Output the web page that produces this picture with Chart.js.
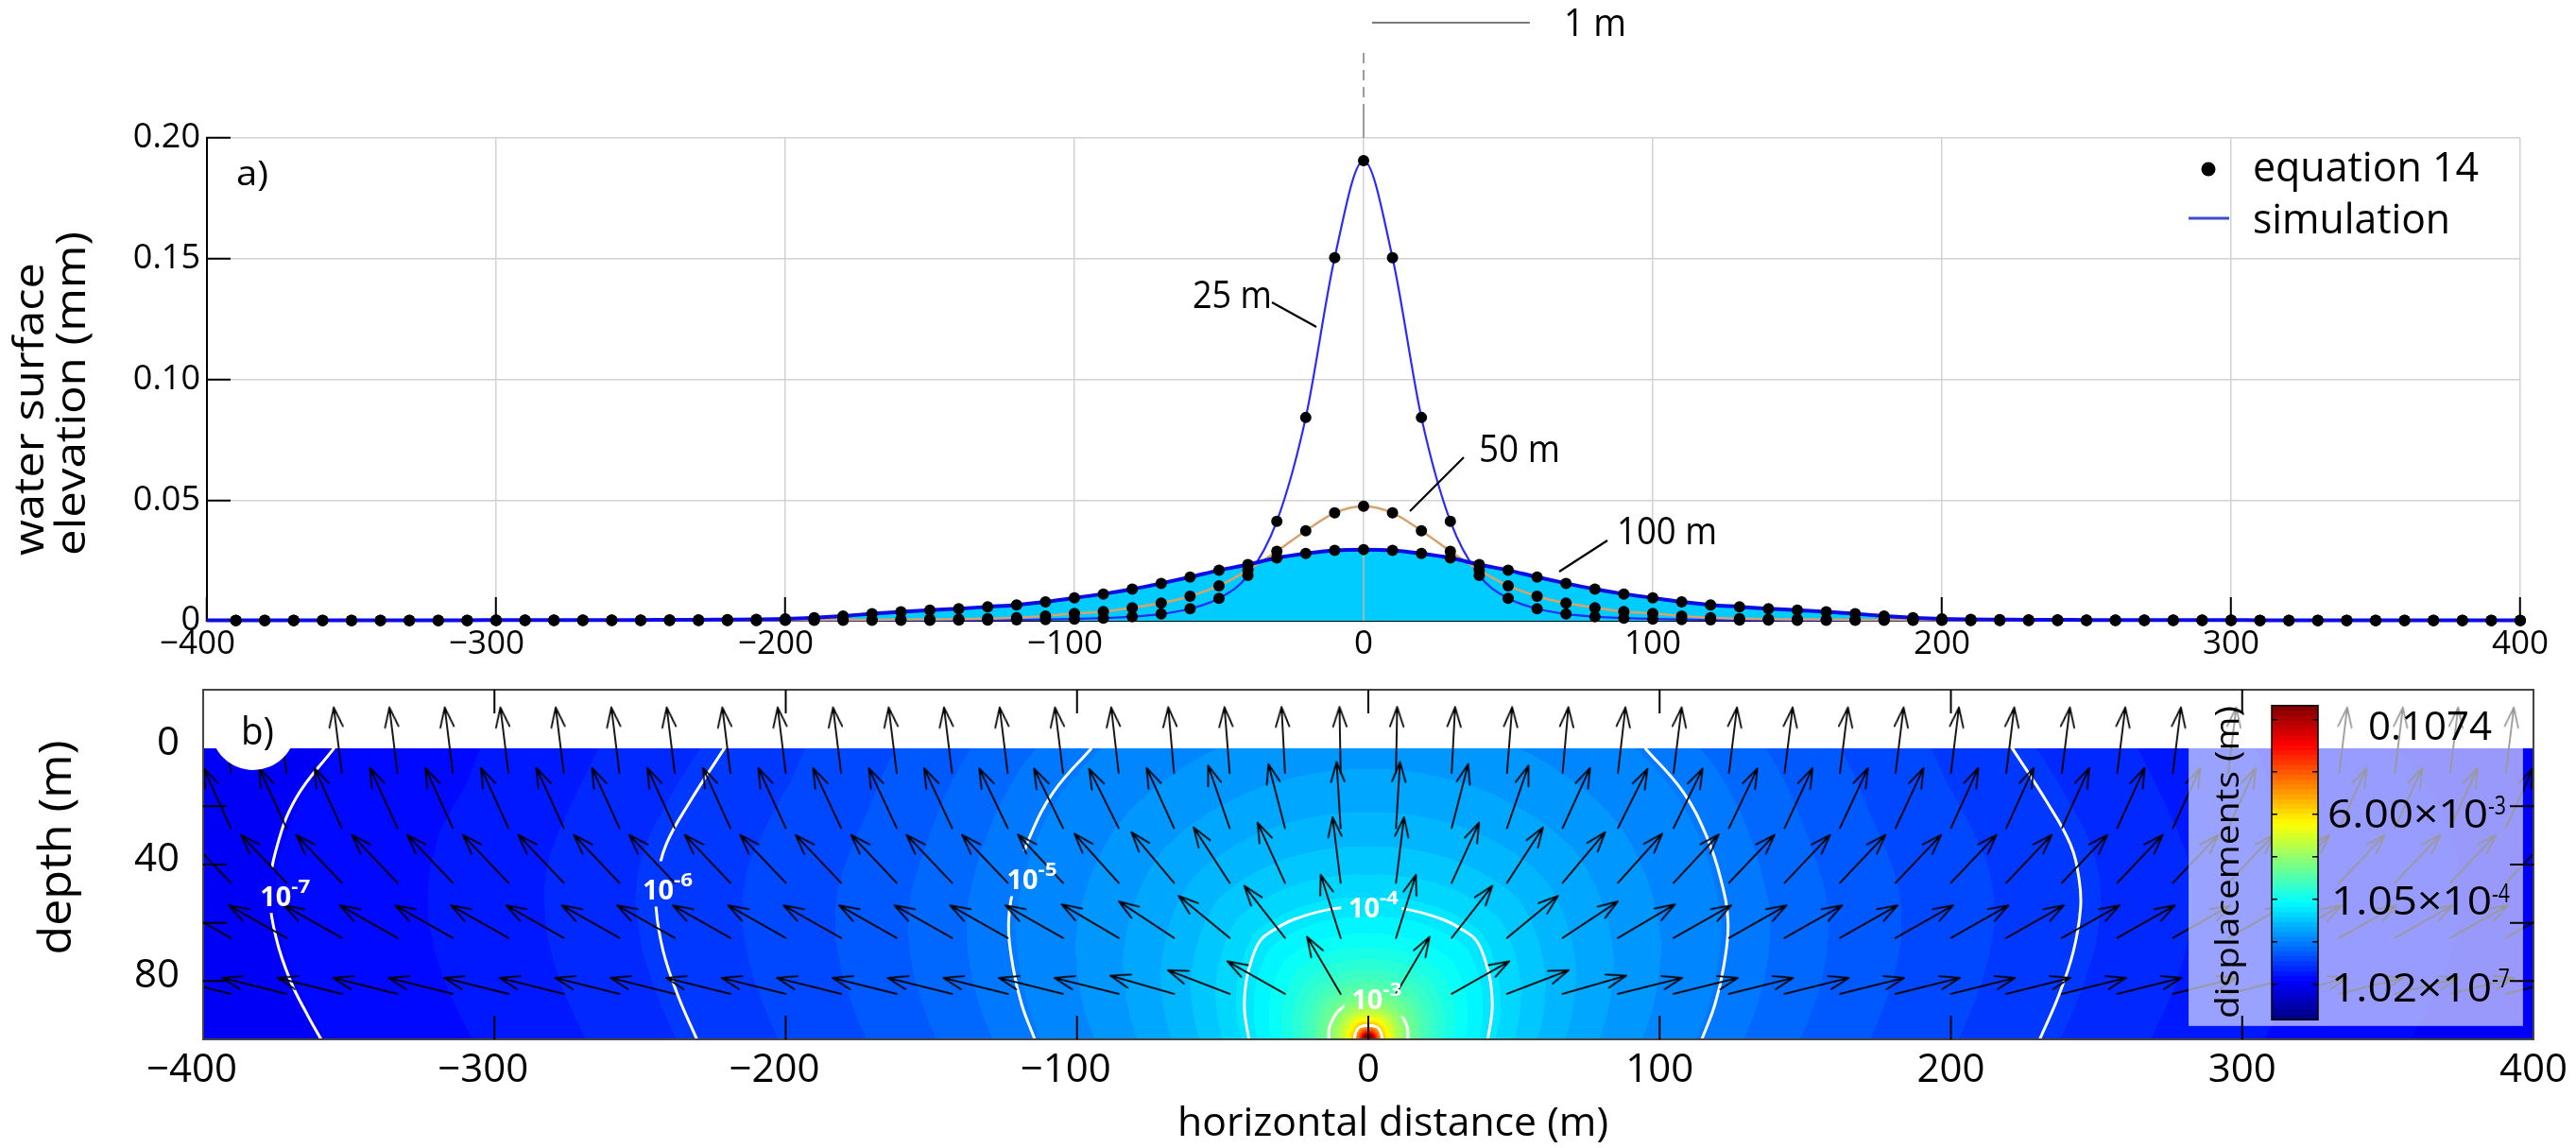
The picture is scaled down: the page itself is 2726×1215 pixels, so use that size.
<!DOCTYPE html>
<html>
<head>
<meta charset="utf-8">
<title>Water surface elevation and displacement field</title>
<script src="https://cdn.jsdelivr.net/npm/chart.js@4.4.1/dist/chart.umd.min.js"></script>
<style>
  html, body { margin: 0; padding: 0; background: #ffffff; }
  #wrap { position: relative; width: 2726px; height: 1215px; overflow: hidden; background: #ffffff; }
  #wrap canvas { position: absolute; left: 0; top: 0; }
</style>
</head>
<body>
<div id="wrap">
  <canvas id="panelB" width="2726" height="1215"></canvas>
  <canvas id="panelA" width="2726" height="1215"></canvas>
</div>
<script>
// ================= Panel (a): water surface elevation (mm) =================
const distance = [-400,-390,-380,-370,-360,-350,-340,-330,-320,-310,-300,-290,-280,-270,-260,-250,-240,-230,-220,-210,
  -200,-190,-180,-170,-160,-150,-140,-130,-120,-110,-100,-90,-80,-70,-60,-50,-40,-30,-20,-10,0,
  10,20,30,40,50,60,70,80,90,100,110,120,130,140,150,160,170,180,190,200,
  210,220,230,240,250,260,270,280,290,300,310,320,330,340,350,360,370,380,390,400];

const elev25 = [0.0001,0.0001,0.0001,0.0001,0.0001,0.0001,0.0001,0.0001,0.0001,0.0001,0.0001,0.0001,0.0001,0.0001,0.0001,0.0001,0.0001,0.0001,0.0001,0.0001,
  0.0002,0.0002,0.0002,0.0002,0.0002,0.0002,0.0003,0.0003,0.0004,0.0005,0.0007,0.0011,0.0017,0.0028,0.0050,0.0093,0.0188,0.0412,0.0842,0.1504,0.1906,
  0.1504,0.0842,0.0412,0.0188,0.0093,0.0050,0.0028,0.0017,0.0011,0.0007,0.0005,0.0004,0.0003,0.0003,0.0002,0.0002,0.0002,0.0002,0.0002,0.0002,
  0.0001,0.0001,0.0001,0.0001,0.0001,0.0001,0.0001,0.0001,0.0001,0.0001,0.0001,0.0001,0.0001,0.0001,0.0001,0.0001,0.0001,0.0001,0.0001,0.0001];

const elev50 = [0.0001,0.0001,0.0001,0.0001,0.0001,0.0001,0.0001,0.0001,0.0001,0.0001,0.0002,0.0002,0.0002,0.0002,0.0002,0.0002,0.0002,0.0002,0.0002,0.0002,
  0.0003,0.0003,0.0004,0.0004,0.0005,0.0006,0.0007,0.0009,0.0013,0.0020,0.0030,0.0038,0.0054,0.0073,0.0102,0.0145,0.0210,0.0288,0.0373,0.0447,0.0475,
  0.0447,0.0373,0.0288,0.0210,0.0145,0.0102,0.0073,0.0054,0.0038,0.0030,0.0020,0.0013,0.0009,0.0007,0.0006,0.0005,0.0004,0.0004,0.0003,0.0003,
  0.0002,0.0002,0.0002,0.0002,0.0002,0.0002,0.0002,0.0002,0.0002,0.0002,0.0001,0.0001,0.0001,0.0001,0.0001,0.0001,0.0001,0.0001,0.0001,0.0001];

const elev100 = [0.0002,0.0002,0.0002,0.0002,0.0002,0.0002,0.0002,0.0002,0.0002,0.0002,0.0003,0.0003,0.0003,0.0003,0.0003,0.0003,0.0004,0.0004,0.0005,0.0006,
  0.0008,0.0013,0.0020,0.0029,0.0037,0.0044,0.0050,0.0058,0.0066,0.0078,0.0095,0.0111,0.0131,0.0155,0.0181,0.0209,0.0233,0.0260,0.0279,0.0292,0.0295,
  0.0292,0.0279,0.0260,0.0233,0.0209,0.0181,0.0155,0.0131,0.0111,0.0095,0.0078,0.0066,0.0058,0.0050,0.0044,0.0037,0.0029,0.0020,0.0013,0.0008,
  0.0006,0.0005,0.0004,0.0004,0.0003,0.0003,0.0003,0.0003,0.0003,0.0003,0.0002,0.0002,0.0002,0.0002,0.0002,0.0002,0.0002,0.0002,0.0002,0.0002];

const curveNames = ['25 m', '50 m', '100 m'];
const legendNames = ['equation 14', 'simulation'];

// ================= Panel (b): displacement field =================
const sourceX = 0, sourceDepth = 100;          // point source (m)
const maxDisplacement = 0.1074;                 // m
const contourLevels = [-2, -3, -4, -5, -6, -7]; // log10 of displacement
// left half of each contour, (horizontal distance m, depth m)
const contourM2 = [[0,95.2],[-3,95.8],[-4.3,97.6],[-4.8,100]];
const contourM3 = [[0,86.3],[-6,87.4],[-10,90],[-11.8,92.3],[-13.4,96],[-13.6,100]];
const contourM4 = [[0,54.5],[-12.3,55.2],[-25.5,58.8],[-32.5,62.5],[-37,66],[-40,72.5],[-42,80.5],[-42.5,90],[-41,100]];
const contourM5 = [[-95,0],[-108,15],[-116,30],[-121,45],[-123.5,60],[-122,75],[-119,88],[-114.5,100]];
const contourM6 = [[-221,0],[-233,18.6],[-241,33],[-244,45],[-244.5,55],[-242,70],[-237,85],[-230.5,100]];
const contourM7 = [[-355,0],[-368,17],[-375,35],[-377,50],[-375,65],[-370,80],[-364,92],[-359.5,100]];
const contourShapes = [contourM2, contourM3, contourM4, contourM5, contourM6, contourM7];

// displacement direction arrows: columns (|x|, m), rows (depth, m), tilt from vertical (deg, outward)
const arrowHalfX = [9.5,28.6,47.6,66.7,85.7,104.8,123.8,142.9,161.9,181.0,200.0,219.0,238.1,257.1,276.2,295.2,314.3,333.3,352.4,371.4,390.5];
const arrowDepth = [8.6, 27.5, 46.3, 65.2, 84.4];
const tiltRow1 = [1,3,4.5,5,6.5,7,7,7,7,7,7,7,7,7,7,7,7,7,7,7,7];
const tiltRow2 = [3.5,14.5,19,24.5,26.5,26,25.5,25,25,25,24.5,24.5,24.5,24.5,24.5,24.5,24.5,24.5,24.5,24.5,24.5];
const tiltRow3 = [7,24.5,33,40,42,43,43.5,43.5,43.5,43.5,43.5,43.5,43.5,43.5,43.5,43.5,43.5,43.5,43.5,43.5,43.5];
const tiltRow4 = [17.5,38,50.5,56.5,59.5,60.5,60.5,60.5,60.5,60.5,60.5,60.5,60.5,60.5,60.5,60.5,60.5,60.5,60.5,60.5,60.5];
const tiltRow5 = [30.5,60.5,69,74,76,76,76,76,76,76,76,76,76,76,76,76,76,76,76,76,76];
const arrowTilts = [tiltRow1, tiltRow2, tiltRow3, tiltRow4, tiltRow5];

const colorbarMain = ['0.1074', '6.00\u00d710', '1.05\u00d710', '1.02\u00d710'];
const colorbarExp  = ['', '-3', '-4', '-7'];
const depthLabels = [0, 40, 80];

// ================= helpers =================
const FONT = "'Open Sans', 'Noto Sans', 'DejaVu Sans', sans-serif";
const COLOR_EXP = 0.15;
const logMax = Math.log10(maxDisplacement);
const coreRadius = 1.6;

function drawText(ctx, s, x, y, o) {
  o = o || {};
  ctx.save();
  ctx.font = (o.weight || 'normal') + ' ' + (o.size || 40) + 'px ' + FONT;
  ctx.fillStyle = o.color || '#000';
  ctx.textAlign = o.align || 'left';
  ctx.textBaseline = o.baseline || 'alphabetic';
  ctx.translate(x, y);
  if (o.rotate) ctx.rotate(o.rotate);
  if (o.width) { const w = ctx.measureText(s).width; if (w > 0) ctx.scale(o.width / w, 1); }
  ctx.fillText(s, 0, 0);
  ctx.restore();
}
function fmtX(v) { return v < 0 ? '\u2212' + Math.abs(v) + '\u2007' : String(v); }

const jet64 = [];
for (let q = 0; q < 64; q++) {
  const u = (q + 0.5) / 64;
  const cl = v => Math.max(0, Math.min(1, v));
  jet64.push([cl(1.5 - Math.abs(4 * u - 3)), cl(1.5 - Math.abs(4 * u - 2)), cl(1.5 - Math.abs(4 * u - 1))].map(v => Math.round(v * 255)));
}
const jetCss = q => 'rgb(' + jet64[q].join(',') + ')';

const contourTables = contourShapes.map(pts => {
  const phi = [], r = [];
  pts.forEach(([x, d]) => { const dz = sourceDepth - d; phi.push(Math.atan2(Math.abs(x - sourceX), dz)); r.push(Math.hypot(x - sourceX, dz)); });
  return { phi, r };
});
function radiusAt(tab, p) {
  const phi = tab.phi, r = tab.r, n = phi.length;
  if (p <= phi[0]) return r[0];
  if (p >= phi[n - 1]) return r[n - 1];
  for (let i = 1; i < n; i++) {
    if (p <= phi[i]) { const f = (p - phi[i - 1]) / (phi[i] - phi[i - 1]); return r[i - 1] + f * (r[i] - r[i - 1]); }
  }
  return r[n - 1];
}
function fieldLog(x, d) {
  const dz = sourceDepth - d, ax = Math.abs(x - sourceX);
  const r = Math.hypot(ax, dz);
  if (r <= coreRadius) return logMax;
  const p = Math.atan2(ax, Math.max(dz, 0));
  let r0 = coreRadius, L0 = logMax, rP = 0, LP = 0;
  for (let k = 0; k < contourLevels.length; k++) {
    const rk = radiusAt(contourTables[k], p), Lk = contourLevels[k];
    if (r <= rk) return L0 + (Lk - L0) * Math.log(r / r0) / Math.log(rk / r0);
    rP = r0; LP = L0; r0 = rk; L0 = Lk;
  }
  return L0 + (L0 - LP) * Math.log(r / r0) / Math.log(r0 / rP);
}
function drawField(chart) {
  const ctx = chart.ctx, a = chart.chartArea, xs = chart.scales.x, ys = chart.scales.y;
  const left = Math.floor(a.left), right = Math.ceil(a.right);
  const top = Math.round(ys.getPixelForValue(0)), bottom = Math.ceil(a.bottom);
  const w = right - left, h = bottom - top;
  const off = document.createElement('canvas'); off.width = w; off.height = h;
  const octx = off.getContext('2d');
  const img = octx.createImageData(w, h); const px = img.data;
  const colX = new Float64Array(w);
  for (let i = 0; i < w; i++) colX[i] = xs.getValueForPixel(left + i + 0.5);
  for (let j = 0; j < h; j++) {
    const d = Math.min(100, ys.getValueForPixel(top + j + 0.5));
    for (let i = 0; i < w; i++) {
      const L = fieldLog(colX[i], d);
      let q = Math.floor(Math.pow(10, COLOR_EXP * (L - logMax)) * 64);
      if (q > 63) q = 63; if (q < 0) q = 0;
      const c = jet64[q], o = (j * w + i) * 4;
      px[o] = c[0]; px[o + 1] = c[1]; px[o + 2] = c[2]; px[o + 3] = 255;
    }
  }
  octx.putImageData(img, 0, 0);
  ctx.drawImage(off, left, top);
}

// arrow glyph (base at centre, pointing up)
const ARROW_LEN = 70;
const arrowGlyph = (function () {
  const S = 2 * ARROW_LEN + 8, c = document.createElement('canvas');
  c.width = S; c.height = S;
  const g = c.getContext('2d'), m = S / 2;
  g.strokeStyle = '#000'; g.lineWidth = 1.8; g.lineCap = 'round'; g.lineJoin = 'round';
  const hl = 22, ha = 19 * Math.PI / 180;
  g.beginPath();
  g.moveTo(m, m); g.lineTo(m, m - ARROW_LEN);
  g.moveTo(m - hl * Math.sin(ha), m - ARROW_LEN + hl * Math.cos(ha));
  g.lineTo(m, m - ARROW_LEN);
  g.lineTo(m + hl * Math.sin(ha), m - ARROW_LEN + hl * Math.cos(ha));
  g.stroke();
  return c;
})();

// ================= Panel (a) chart =================
const toPts = ys => distance.map((x, i) => ({ x: x, y: ys[i] }));
const toDots = ys => toPts(ys).filter(p => p.x > -400);
const dotStyle = { showLine: false, pointRadius: 6, pointBackgroundColor: '#000', pointBorderWidth: 0, clip: false, order: 0 };

const annotA = {
  curveLabels: [ { x: 1262, y: 326, w: 84,  l: [1346, 320, 1393, 346] },
                 { x: 1565, y: 489, w: 86,  l: [1549, 484, 1492, 541] },
                 { x: 1711, y: 576, w: 106, l: [1701, 572, 1650, 605] } ]
};

const decorA = {
  id: 'decorA',
  beforeDatasetsDraw(chart) {
    const ctx = chart.ctx, xs = chart.scales.x, ys = chart.scales.y;
    const p = xs.getPixelForValue(0);
    ctx.save();
    ctx.strokeStyle = '#cdb796'; ctx.lineWidth = 1.5;
    ctx.beginPath(); ctx.moveTo(p, ys.getPixelForValue(0)); ctx.lineTo(p, ys.getPixelForValue(elev100[distance.indexOf(0)])); ctx.stroke();
    ctx.restore();
  },
  afterDraw(chart) {
    const ctx = chart.ctx, a = chart.chartArea, xs = chart.scales.x;
    const x0 = xs.getPixelForValue(0);
    ctx.save();
    ctx.strokeStyle = '#9c9c9c'; ctx.lineWidth = 2;
    ctx.setLineDash([11, 7]);
    ctx.beginPath(); ctx.moveTo(x0, 56); ctx.lineTo(x0, 118); ctx.stroke();
    ctx.setLineDash([]);
    ctx.beginPath(); ctx.moveTo(x0, 118); ctx.lineTo(x0, a.top); ctx.stroke();
    ctx.strokeStyle = '#7a7a7a';
    ctx.beginPath(); ctx.moveTo(1452, 24); ctx.lineTo(1619, 24); ctx.stroke();
    // leader lines
    ctx.strokeStyle = '#000'; ctx.lineWidth = 2.2;
    annotA.curveLabels.forEach(c => { ctx.beginPath(); ctx.moveTo(c.l[0], c.l[1]); ctx.lineTo(c.l[2], c.l[3]); ctx.stroke(); });
    // legend symbols
    ctx.fillStyle = '#000'; ctx.beginPath(); ctx.arc(2337, 179, 7.5, 0, 2 * Math.PI); ctx.fill();
    ctx.strokeStyle = '#3a4fd0'; ctx.lineWidth = 3;
    ctx.beginPath(); ctx.moveTo(2316, 231); ctx.lineTo(2359, 231); ctx.stroke();
    ctx.restore();

    drawText(ctx, '1 m', 1655, 38, { size: 40, width: 66 });
    drawText(ctx, 'a)', 250, 196, { size: 36, width: 34 });
    drawText(ctx, 'water surface', 46, 588, { size: 44, width: 310, rotate: -Math.PI / 2 });
    drawText(ctx, 'elevation (mm)', 90, 588, { size: 44, width: 343, rotate: -Math.PI / 2 });
    drawText(ctx, legendNames[0], 2384, 192, { size: 43, width: 239 });
    drawText(ctx, legendNames[1], 2384, 247, { size: 43, width: 209 });
    annotA.curveLabels.forEach((c, i) => drawText(ctx, curveNames[i], c.x, c.y, { size: 40, width: c.w }));
  }
};

new Chart(document.getElementById('panelA'), {
  type: 'line',
  data: {
    datasets: [
      Object.assign({ label: 'equation 14 (25 m)', data: toDots(elev25) }, dotStyle),
      Object.assign({ label: 'equation 14 (50 m)', data: toDots(elev50) }, dotStyle),
      Object.assign({ label: 'equation 14 (100 m)', data: toDots(elev100) }, dotStyle),
      { label: 'simulation 100 m', data: toPts(elev100), borderColor: '#0c0ce6', borderWidth: 4, pointRadius: 0,
        fill: 'origin', backgroundColor: '#00ccff', cubicInterpolationMode: 'monotone', clip: false, order: 1 },
      { label: 'simulation 50 m', data: toPts(elev50), borderColor: '#d4a46c', borderWidth: 2.5, pointRadius: 0,
        fill: false, cubicInterpolationMode: 'monotone', clip: false, order: 2 },
      { label: 'simulation 25 m', data: toPts(elev25), borderColor: '#2a2aff', borderWidth: 2.2, pointRadius: 0,
        fill: false, cubicInterpolationMode: 'monotone', clip: false, order: 3 }
    ]
  },
  options: {
    responsive: false, animation: false, devicePixelRatio: 1, events: [],
    layout: { padding: { left: 0, right: 49, top: 146, bottom: 0 }, autoPadding: false },
    plugins: { legend: { display: false }, tooltip: { enabled: false }, filler: { drawTime: 'beforeDatasetsDraw' } },
    scales: {
      x: {
        type: 'linear', min: -400, max: 400,
        afterFit: s => { s.height = 558; },
        grid: { color: '#d2d2d2', lineWidth: 1.5, drawTicks: true, tickLength: -25, tickColor: '#000', tickWidth: 2 },
        border: { display: true, color: '#000', width: 2 },
        ticks: { stepSize: 100, autoSkip: false, maxRotation: 0, padding: 29, color: '#000',
                 font: { family: FONT, size: 35 }, callback: v => fmtX(v) }
      },
      y: {
        type: 'linear', min: 0, max: 0.2,
        afterFit: s => { s.width = 219; },
        grid: { color: '#d2d2d2', lineWidth: 1.5, drawTicks: true, tickLength: -25, tickColor: '#000', tickWidth: 2 },
        border: { display: true, color: '#000', width: 2 },
        ticks: { stepSize: 0.05, autoSkip: false, padding: 32, color: '#000',
                 font: { family: FONT, size: 36 }, callback: v => Math.abs(v) < 1e-9 ? '0' : v.toFixed(2) }
      }
    }
  },
  plugins: [decorA]
});

// ================= Panel (b) chart =================
const contourStyle = { borderColor: '#ffffff', borderWidth: 3, pointRadius: 0, tension: 0.4, fill: false, isContour: true, order: 2 };
const contourDatasets = [];
contourShapes.forEach((pts, k) => {
  const leftHalf = pts.map(([x, d]) => ({ x: x, y: d }));
  const rightHalf = pts.map(([x, d]) => ({ x: -x, y: d }));
  if (pts[0][0] === 0) {
    contourDatasets.push(Object.assign({ label: '10^' + contourLevels[k], data: rightHalf.slice().reverse().concat(leftHalf.slice(1)) }, contourStyle));
  } else {
    contourDatasets.push(Object.assign({ label: '10^' + contourLevels[k] + ' (left)', data: leftHalf }, contourStyle));
    contourDatasets.push(Object.assign({ label: '10^' + contourLevels[k] + ' (right)', data: rightHalf }, contourStyle));
  }
});
const arrowPts = [];
arrowDepth.forEach((d, r) => {
  arrowHalfX.forEach((hx, i) => {
    arrowPts.push({ x: -hx, y: d, rot: -arrowTilts[r][i] });
    arrowPts.push({ x: hx, y: d, rot: arrowTilts[r][i] });
  });
});

const annotB = {
  labels: [ { lv: '-7', x: -375.1, d: 50.8 }, { lv: '-6', x: -243.8, d: 48.6 }, { lv: '-5', x: -118.7, d: 45.0 },
            { lv: '-4', x: -1.5, d: 54.7 }, { lv: '-3', x: -0.4, d: 86.3 } ],
  overlay: { x0: 281.6, x1: 396.4, d0: -19.5, d1: 95.4 },
  bar: { x0: 2404, x1: 2453, y0: 746.7, y1: 1079.3, ticks: [761.7, 816.7, 861.7, 906.7, 951.7, 996.7, 1041.7] },
  barText: [ { x: 2506, y: 783, w: 131 }, { x: 2463, y: 876, w: 170, ex: 2633, ey: 862 },
             { x: 2467, y: 968, w: 170, ex: 2637, ey: 955 }, { x: 2467, y: 1060, w: 170, ex: 2637, ey: 1045 } ],
  badge: { cx: 268, cy: 770, r: 45 }
};
function overlayRect(chart) {
  const xs = chart.scales.x, ys = chart.scales.y, o = annotB.overlay;
  const x0 = xs.getPixelForValue(o.x0), x1 = xs.getPixelForValue(o.x1), y0 = ys.getPixelForValue(o.d0), y1 = ys.getPixelForValue(o.d1);
  return [x0, y0, x1 - x0, y1 - y0];
}
function labelGapRects(chart) {
  const xs = chart.scales.x, ys = chart.scales.y;
  return annotB.labels.map(l => { const cx = xs.getPixelForValue(l.x), cy = ys.getPixelForValue(l.d); return [cx - 24, cy - 30, 64, 48]; });
}

const decorB = {
  id: 'decorB',
  beforeDatasetsDraw(chart) { drawField(chart); },
  beforeDatasetDraw(chart, args) {
    const ds = chart.data.datasets[args.index];
    if (!ds.isContour) return;
    const ctx = chart.ctx, a = chart.chartArea;
    const orc = overlayRect(chart);
    ctx.save(); ctx.beginPath(); ctx.rect(0, 0, chart.width, chart.height);
    labelGapRects(chart).concat([[orc[0], orc[1], orc[2], a.bottom + 5 - orc[1]]]).forEach(r => ctx.rect(r[0], r[1], r[2], r[3]));
    ctx.clip('evenodd');
  },
  afterDatasetDraw(chart, args) {
    const ds = chart.data.datasets[args.index];
    if (ds.isContour) chart.ctx.restore();
  },
  afterDatasetsDraw(chart) {
    const ctx = chart.ctx, a = chart.chartArea, xs = chart.scales.x, ys = chart.scales.y;
    // contour labels
    annotB.labels.forEach(l => {
      const cx = xs.getPixelForValue(l.x), cy = ys.getPixelForValue(l.d);
      drawText(ctx, '10', cx, cy + 10.5, { size: 29, weight: 'bold', color: '#fff', align: 'center', width: 33 });
      drawText(ctx, l.lv, cx + 16.5, cy - 3.5, { size: 20, weight: 'bold', color: '#fff', width: 20 });
    });
    // b) badge
    const bg = annotB.badge;
    ctx.save();
    ctx.beginPath(); ctx.rect(a.left, a.top, a.right - a.left, a.bottom - a.top); ctx.clip();
    ctx.fillStyle = '#fff'; ctx.beginPath(); ctx.arc(bg.cx, bg.cy, bg.r, 0, 2 * Math.PI); ctx.fill();
    ctx.restore();
    drawText(ctx, 'b)', 255, 788, { size: 40, width: 35 });
    // translucent colour-bar panel
    const orc = overlayRect(chart);
    ctx.save(); ctx.fillStyle = 'rgba(255,255,255,0.6)'; ctx.fillRect(orc[0], orc[1], orc[2], orc[3]);
    // colour bar
    const b = annotB.bar, bh = (b.y1 - b.y0) / 64;
    for (let q = 0; q < 64; q++) { ctx.fillStyle = jetCss(q); ctx.fillRect(b.x0, b.y1 - (q + 1) * bh - 0.5, b.x1 - b.x0, bh + 1); }
    ctx.strokeStyle = '#000'; ctx.lineWidth = 1.5; ctx.strokeRect(b.x0, b.y0, b.x1 - b.x0, b.y1 - b.y0);
    ctx.beginPath();
    b.ticks.forEach(t => { ctx.moveTo(b.x0, t); ctx.lineTo(b.x0 + 6, t); ctx.moveTo(b.x1, t); ctx.lineTo(b.x1 - 6, t); });
    ctx.stroke();
    ctx.restore();
    annotB.barText.forEach((t, i) => {
      drawText(ctx, colorbarMain[i], t.x, t.y, { size: 42, width: t.w });
      if (colorbarExp[i]) drawText(ctx, colorbarExp[i], t.ex, t.ey, { size: 27, width: 19 });
    });
    drawText(ctx, 'displacements (m)', 2369, 912.5, { size: 34, width: 331, align: 'center', rotate: -Math.PI / 2 });
    // frame and inward ticks
    ctx.save();
    ctx.strokeStyle = '#444'; ctx.lineWidth = 2;
    ctx.strokeRect(a.left, a.top, a.right - a.left, a.bottom - a.top);
    ctx.strokeStyle = '#000'; ctx.lineWidth = 2; ctx.beginPath();
    xs.ticks.forEach(t => {
      if (t.value <= -400 || t.value >= 400) return;
      const p = xs.getPixelForValue(t.value);
      ctx.moveTo(p, a.bottom); ctx.lineTo(p, a.bottom - 25);
      ctx.moveTo(p, a.top); ctx.lineTo(p, a.top + 25);
    });
    ys.ticks.forEach(t => {
      if (t.value <= 0 || t.value >= 100) return;
      const p = ys.getPixelForValue(t.value);
      ctx.moveTo(a.left, p); ctx.lineTo(a.left + 25, p);
      ctx.moveTo(a.right, p); ctx.lineTo(a.right - 25, p);
    });
    ctx.stroke(); ctx.restore();
  },
  afterDraw(chart) {
    const ctx = chart.ctx;
    drawText(ctx, 'depth (m)', 75, 897, { size: 48, width: 227, align: 'center', rotate: -Math.PI / 2 });
    drawText(ctx, 'horizontal distance (m)', 1474, 1202, { size: 42, width: 456, align: 'center' });
  }
};

new Chart(document.getElementById('panelB'), {
  type: 'line',
  data: {
    datasets: contourDatasets.concat([
      { label: 'displacement direction', data: arrowPts, showLine: false, pointStyle: arrowGlyph, pointRadius: 2,
        rotation: c => (c.raw ? c.raw.rot : 0), order: 0 }
    ])
  },
  options: {
    responsive: false, animation: false, devicePixelRatio: 1, events: [],
    layout: { padding: { left: 0, right: 45, top: 730, bottom: 0 }, autoPadding: false },
    plugins: { legend: { display: false }, tooltip: { enabled: false } },
    scales: {
      x: {
        type: 'linear', min: -400, max: 400,
        afterFit: s => { s.height = 115; },
        grid: { display: false, drawTicks: false }, border: { display: false },
        ticks: { stepSize: 100, autoSkip: false, maxRotation: 0, padding: 8, color: '#000',
                 font: { family: FONT, size: 42 }, callback: v => fmtX(v) }
      },
      y: {
        type: 'linear', reverse: true, min: -20, max: 100,
        afterFit: s => { s.width = 215; },
        grid: { display: false, drawTicks: false }, border: { display: false },
        ticks: { stepSize: 20, autoSkip: false, padding: 25, labelOffset: -5, color: '#000',
                 font: { family: FONT, size: 42 }, callback: v => (depthLabels.indexOf(v) >= 0 ? String(v) : '') }
      }
    }
  },
  plugins: [decorB]
});
</script>
</body>
</html>
